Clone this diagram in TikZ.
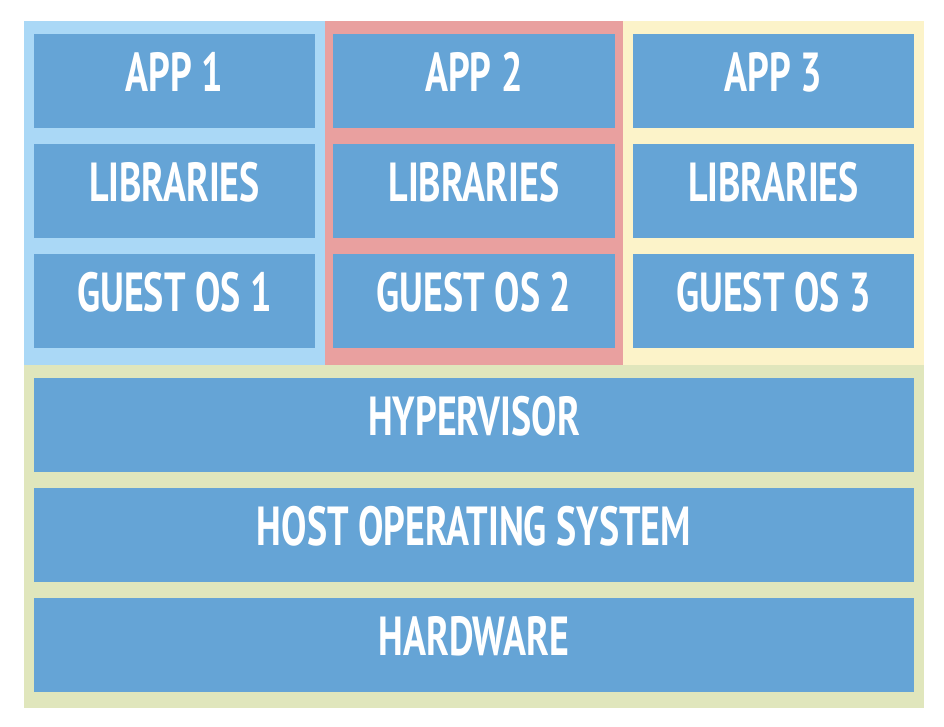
\documentclass[tikz,border=0pt]{standalone}
\usepackage{fontspec}
\setmainfont{PT Sans}[FakeStretch=0.69]
\definecolor{boxblue}{HTML}{65A4D6}
\definecolor{colblue}{HTML}{AAD8F6}
\definecolor{colpink}{HTML}{E9A09F}
\definecolor{colyellow}{HTML}{FCF3C9}
\definecolor{colgreen}{HTML}{E0E6BC}
\tikzset{
  layer/.style={fill=boxblue, draw=none, text=white, font=\fontsize{55}{55}\selectfont\bfseries, inner sep=0pt, yshift=9pt},
}
\begin{document}
\begin{tikzpicture}[x=1pt,y=-1pt]
\useasboundingbox[fill=white] (0,0) rectangle (944,726);
\fill[colblue] (24,21) rectangle (325,365);
\fill[colpink] (325,21) rectangle (623,365);
\fill[colyellow] (623,21) rectangle (924,365);
\fill[colgreen] (24,365) rectangle (924,708);
% column 1
\fill[boxblue] (34,34) rectangle (315,128) node[layer, midway] (app1) {APP 1};
\fill[boxblue] (34,144) rectangle (315,238) node[layer, midway] (lib1) {LIBRARIES};
\fill[boxblue] (34,254) rectangle (315,348) node[layer, midway] (os1) {GUEST OS 1};
% column 2
\fill[boxblue] (333,34) rectangle (615,128) node[layer, midway] (app2) {APP 2};
\fill[boxblue] (333,144) rectangle (615,238) node[layer, midway] (lib2) {LIBRARIES};
\fill[boxblue] (333,254) rectangle (615,348) node[layer, midway] (os2) {GUEST OS 2};
% column 3
\fill[boxblue] (633,34) rectangle (914,128) node[layer, midway] (app3) {APP 3};
\fill[boxblue] (633,144) rectangle (914,238) node[layer, midway] (lib3) {LIBRARIES};
\fill[boxblue] (633,254) rectangle (914,348) node[layer, midway] (os3) {GUEST OS 3};
% bottom
\fill[boxblue] (34,378) rectangle (914,472) node[layer, midway] (hyp) {HYPERVISOR};
\fill[boxblue] (34,488) rectangle (914,582) node[layer, midway] (host) {HOST OPERATING SYSTEM};
\fill[boxblue] (34,598) rectangle (914,692) node[layer, midway] (hw) {HARDWARE};
\end{tikzpicture}
\end{document}
